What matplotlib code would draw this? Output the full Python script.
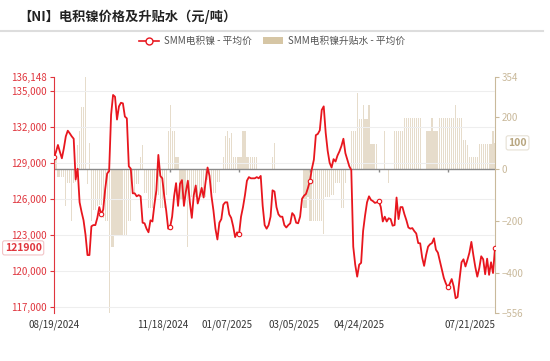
import matplotlib
matplotlib.use("Agg")
import matplotlib.pyplot as plt
from matplotlib.lines import Line2D
from matplotlib.patches import Patch
from matplotlib.ticker import FuncFormatter
import matplotlib.transforms as mtransforms

plt.rcParams['font.family'] = ['Noto Sans CJK SC', 'DejaVu Sans']

# 横轴标签 (交易日序号 -> 日期)
tick_dates = ["08/19/2024", "11/18/2024", "01/07/2025", "03/05/2025", "04/24/2025", "07/21/2025"]
tick_idx = [0, 55, 88, 122, 155, 224]
symbol_idx = [0, 24, 59, 94, 130, 165, 200, 224]   # 折线上显示的空心点

# SMM电积镍 - 平均价 (元/吨)
price = [
    129450, 129900, 130480, 129900, 129370, 130200, 131200, 131670, 131450, 131200,
    131000, 127600, 128500, 125700, 124900, 124200, 123000, 121300, 121300, 123700,
    123800, 123800, 124400, 125300, 124700, 125100, 126800, 128100, 128300, 133000,
    134650, 134500, 132600, 133700, 134000, 133950, 132850, 132700, 128700, 128500,
    126450, 126450, 126200, 126300, 126200, 124000, 123950, 123500, 123200, 124200,
    124100, 125500, 126700, 129650, 127900, 127700, 126200, 125000, 123500, 123650,
    124500, 126200, 127300, 125400, 127250, 127550, 125400, 126600, 127500, 125700,
    124400, 126300, 127100, 125600, 126200, 126900, 126100, 127400, 128600, 127900,
    126200, 125000, 123500, 122600, 124000, 124300, 125500, 125700, 125700, 124700,
    124400, 123700, 122800, 123200, 123050, 124500, 125300, 126300, 127500, 127800,
    127700, 127700, 127700, 127800, 127700, 127900, 125400, 123800, 123500, 123800,
    124500, 126700, 126600, 125300, 124700, 124500, 124500, 123800, 123600, 123800,
    123950, 124800, 124600, 124000, 123950, 124500, 126000, 126250, 126400, 126900,
    127500, 128500, 129250, 131300, 131400, 131700, 133400, 133700, 131500, 130000,
    129000, 128600, 129300, 129100, 129600, 129950, 130400, 131000, 129800, 129250,
    128700, 128400, 122000, 120500, 119500, 120500, 120650, 123300, 124600, 125700,
    126200, 125900, 125800, 125650, 125700, 125800, 125300, 124100, 124500, 124100,
    124370, 124300, 123750, 123800, 126100, 124300, 125300, 125300, 124700, 124200,
    123600, 123500, 123550, 123300, 123100, 122300, 122280, 121100, 120400, 121300,
    122000, 122200, 122300, 122700, 121750, 121500, 120800, 120100, 119400, 118950,
    118600, 118900, 119300, 118700, 117700, 117800, 119300, 120700, 120950, 120350,
    120900, 121500, 122400, 121300, 120300, 119500, 120200, 121200, 120950, 119700,
    121000, 119650, 120700, 119800, 121900,
]

# SMM电积镍升贴水 - 平均价 (元/吨)
premium = [
    45, 45, -30, -30, -30, -30, -143, -54, -54, -203,
    -54, -50, 93, 144, 240, 240, 354, -60, 100, -203,
    -158, -158, -145, -140, -140, -189, -200, -200, -556, -300,
    -300, -255, -255, -255, -255, -255, -255, -255, -200, -200,
    -92, -92, -60, -60, 45, 93, -94, -94, -150, -150,
    -150, -150, -100, -100, -150, -150, -150, -100, 144, 247,
    144, 144, 46, 46, -120, -120, -120, -120, -300, -110,
    -110, -110, -110, -110, -110, -110, -110, -110, -42, -42,
    -110, -94, -94, -50, -50, 0, 46, 125, 144, 120,
    138, 46, 46, 46, 46, 46, 144, 144, 45, 45,
    45, 45, 45, 45, 0, 0, 0, 0, 0, 0,
    0, 45, 99, 0, 0, 0, 0, 0, 0, 0,
    0, 0, 0, 0, 0, 0, 0, -150, -150, -107,
    -203, -203, -203, -203, -203, -203, -203, -250, -107, -107,
    -107, -100, -100, -54, -54, -54, -150, -150, -54, 0,
    0, 144, 144, 144, 294, 192, 192, 247, 192, 192,
    247, 96, 96, 96, 96, 0, 0, 0, 144, 0,
    -55, 0, 0, 144, 144, 144, 144, 144, 195, 195,
    195, 195, 195, 195, 195, 195, 195, 0, 0, 144,
    144, 144, 195, 144, 144, 144, 195, 195, 195, 195,
    195, 195, 195, 195, 247, 195, 195, 195, 112, 112,
    93, 45, 45, 45, 45, 45, 96, 96, 96, 96,
    96, 96, 96, 144, 100,
]

left_ticks = [117000, 120000, 123000, 126000, 129000, 132000, 135000, 136148]
right_ticks = [-556, -400, -200, 0, 200, 354]

red = '#e8161e'
red_txt = '#e0363e'
tan = '#c9b99b'
bar_c = '#e6dccb'

x = list(range(len(price)))

fig = plt.figure(figsize=(5.5, 3.61), dpi=100)
ax = fig.add_axes([54 / 550, 1 - 313 / 361, 441 / 550, 236 / 361])
ax2 = ax.twinx()
ax.set_zorder(ax2.get_zorder() + 1)
ax.patch.set_visible(False)

# 升贴水柱
ax2.bar(x, premium, width=0.6, color=bar_c, antialiased=False, zorder=1)
ax2.axhline(0, color='#8a8a8a', lw=1, zorder=3)
ax2.vlines(symbol_idx[2:-1], -14, 0, color='#8a8a8a', lw=1, zorder=3)
ax2.set_ylim(right_ticks[0], right_ticks[-1])
ax2.set_yticks(right_ticks)
ax2.tick_params(axis='y', colors=tan, labelsize=7, length=3, width=0.8, pad=2)
for s in ['top', 'bottom', 'left']:
    ax2.spines[s].set_visible(False)
ax2.spines['right'].set_color(tan)

# 价格折线
for v in left_ticks[:-1]:
    ax.axhline(v, color='#eeeeee', lw=0.8, zorder=0)
ax.plot(x, price, color=red, lw=1.3, zorder=5)
ax.plot([x[i] for i in symbol_idx], [price[i] for i in symbol_idx], 'o', ms=3.2,
        mfc='white', mec=red, mew=0.8, zorder=6)
ax.set_xlim(0, len(price) - 1)
ax.set_ylim(116470, left_ticks[-1])
ax.set_yticks(left_ticks)
ax.yaxis.set_major_formatter(FuncFormatter(lambda v, p: '{:,.0f}'.format(v)))
ax.tick_params(axis='y', colors=red_txt, labelsize=7, length=3, width=0.8, pad=2)
for s in ['top', 'bottom', 'right']:
    ax.spines[s].set_visible(False)
ax.spines['left'].set_color(red_txt)

ax.set_xticks(tick_idx)
ax.set_xticklabels(tick_dates, fontsize=7, color='#333333')
ax.tick_params(axis='x', length=0, pad=5)
lbls = ax.get_xticklabels()
lbls[-1].set_ha('right')

# 最新值标签
trans = mtransforms.blended_transform_factory(ax.transAxes, ax.transData)
ax.text(-0.028, price[-1], str(price[-1]), transform=trans, ha='right', va='center',
        fontsize=7.5, fontweight='bold', color=red_txt, zorder=7,
        bbox=dict(boxstyle='round,pad=0.2', fc='white', ec='#f2c4c6', lw=0.8))
trans2 = mtransforms.blended_transform_factory(ax2.transAxes, ax2.transData)
ax2.text(1.03, premium[-1], str(premium[-1]), transform=trans2, ha='left', va='center',
         fontsize=7.5, fontweight='bold', color='#b8a680',
         bbox=dict(boxstyle='round,pad=0.2', fc='white', ec='#e6e0d4', lw=0.8))

# 标题 + 分隔线
fig.text(18 / 550, 1 - 17 / 361, '【NI】电积镍价格及升贴水（元/吨）', fontsize=9.5,
         fontweight='bold', color='#222222', va='center', ha='left')
fig.add_artist(Line2D([0, 543 / 550], [1 - 31 / 361, 1 - 31 / 361], color='#dddddd', lw=1.5))

handles = [
    Line2D([0], [0], color=red, lw=1.2, marker='o', ms=5, mfc='white', mec=red),
    Patch(facecolor='#d6c6a5', edgecolor='none'),
]
fig.legend(handles, ['SMM电积镍 - 平均价', 'SMM电积镍升贴水 - 平均价'], ncol=2,
           loc='center', bbox_to_anchor=(272 / 550, 1 - 41 / 361), frameon=False,
           fontsize=7, labelcolor='#555555', handlelength=2, handletextpad=0.5,
           columnspacing=1.2)

fig.savefig('out.png', dpi=100)
